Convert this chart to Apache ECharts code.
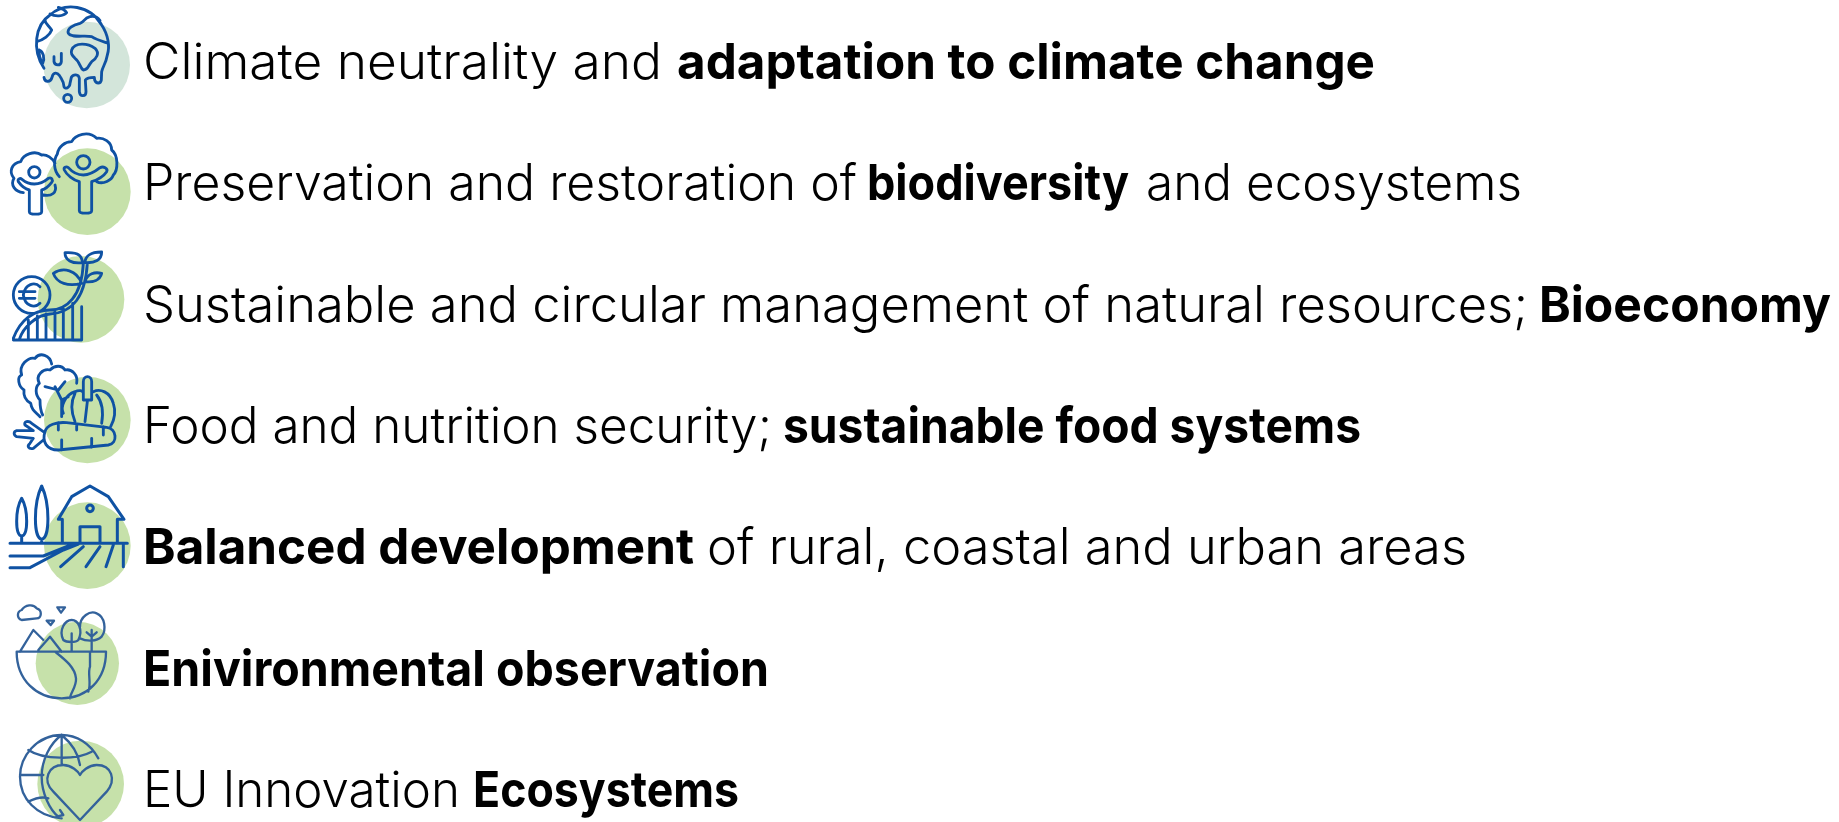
<!DOCTYPE html>
<html>
<head>
<meta charset="utf-8">
<title>Mission areas</title>
<style>
  html, body { margin: 0; padding: 0; background: #fff; }
  #chart { width: 1839px; height: 822px; }
</style>
<script src="https://cdn.jsdelivr.net/npm/echarts@6/dist/echarts.min.js"></script>
</head>
<body>
<div id="chart"></div>
<script>
const rowKeys = ['climate', 'biodiversity', 'bioeconomy', 'food', 'territories', 'observation', 'innovation'];
const rowTexts = [
  ['Climate neutrality and', 'adaptation to climate change'],
  ['Preservation and restoration of', 'biodiversity', 'and ecosystems'],
  ['Sustainable and circular management of natural resources;', 'Bioeconomy'],
  ['Food and nutrition security;', 'sustainable food systems'],
  ['Balanced development', 'of rural, coastal and urban areas'],
  ['Enivironmental observation'],
  ['EU Innovation', 'Ecosystems']
];
const rowBold = [
  [false, true],
  [false, true, false],
  [false, true],
  [false, true],
  [true, false],
  [true],
  [false, true]
];

// icon outlines, drawn in 3x crop units
const iconPaths = [
  'M132 205C95 150 105 75 150 45C195 5 270 15 305 75C325 105 330 140 322 165C318 190 308 200 305 215L304 240C302 252 288 252 284 240L283 232C275 232 262 232 256 240L258 275C258 290 240 292 238 275L238 235C236 222 220 222 214 232L210 250C210 262 196 270 192 260C190 240 186 240 178 226C172 218 160 215 156 232C152 248 134 248 132 232' +
  'M110 125C130 120 150 105 155 90C145 75 135 70 135 60M150 42C165 50 190 50 200 38C195 30 185 25 175 22M325 130C310 125 290 120 275 110C255 105 215 115 205 100C200 85 220 75 240 70C255 65 250 55 270 50C285 45 295 55 300 62' +
  'M215 150C225 125 265 130 285 145C300 160 290 175 275 185C265 195 265 210 250 210C240 205 240 185 225 175C215 165 212 160 215 150ZM162 170L162 185C165 198 182 198 184 185L184 160M118 150C130 155 135 175 128 190C122 180 115 170 118 150Z' +
  'M191 295A12 12 0 1 0 215 295A12 12 0 1 0 191 295Z',
  'M178 530C160 510 160 480 172 462C175 440 195 425 215 425C225 405 265 390 290 415C310 412 335 425 335 450C355 465 355 510 340 525C335 540 310 555 290 545M230 487A20 20 0 1 0 270 487A20 20 0 1 0 230 487Z' +
  'M193 510C190 502 198 498 205 503C220 520 235 525 250 525C270 525 285 515 300 503C310 498 325 505 320 515C310 530 290 540 275 545L275 632C275 642 238 642 238 632L238 545C220 540 200 525 193 510Z' +
  'M70 578C45 575 30 555 42 535C25 515 35 490 62 485C70 462 105 450 125 465C140 462 158 475 165 490M165 555C172 578 155 590 130 585M86 517A17 17 0 1 0 120 517A17 17 0 1 0 86 517Z' +
  'M55 545C52 537 60 533 66 538C78 548 90 552 103 552C120 552 133 545 145 535C155 530 160 540 155 547C145 560 135 568 125 570L125 635C125 645 88 645 88 635L88 570C75 567 62 555 55 545Z',
  'M40 300L245 300L245 200M40 295C60 240 100 210 150 210C200 210 245 170 250 70M58 298C70 260 110 225 150 222C200 220 255 190 262 70' +
  'M85 298L85 240M112 298L112 228M138 298L138 222M165 298L165 215M190 298L190 205M218 298L218 190' +
  'M195 38C240 35 245 50 248 68C215 72 195 60 195 38ZM305 36C270 36 255 50 255 68C285 70 305 60 305 36ZM160 100C190 80 230 90 245 130C205 140 170 130 160 100ZM305 100C285 95 262 100 255 125C280 128 300 120 305 100Z' +
  'M40 165A55 55 0 1 0 150 165A55 55 0 1 0 40 165ZM120 140C105 125 75 130 70 165C75 200 105 205 120 190M58 155L105 155M58 175L105 175',
  'M120 530C105 515 95 510 92 490C75 480 70 465 72 450C55 440 50 410 65 405C55 375 85 350 105 355C120 335 150 345 155 372M128 525C120 510 120 490 120 480C105 465 105 440 118 430C105 405 130 385 150 390C165 375 185 375 195 390C215 385 235 405 230 430' +
  'M185 530L185 480L165 440M185 480L205 470M135 440L175 450L195 425M190 520C180 500 195 465 225 455C235 450 250 450 250 460M250 480L250 425C250 405 275 405 275 425L275 480ZM262 485L255 545M225 460C210 490 215 520 225 545M280 455C300 445 330 455 340 490C350 520 340 545 332 560M290 465C310 490 310 520 305 550' +
  'M135 575C140 555 170 545 200 548L320 562C350 565 355 610 325 615L175 630C140 630 125 605 135 575ZM175 548L175 570M230 552L230 570M310 560L310 585M185 630L185 600M275 622L275 595' +
  'M130 600L100 625C85 628 80 618 90 610L100 595L50 590C40 585 40 575 50 572L100 572L75 555C70 545 85 540 95 550L130 575',
  'M187 148L175 148L215 80L270 48L325 80L372 148L352 148M187 148L187 220M352 148L352 220M240 220L240 170L300 170L300 220' +
  'M65 85C45 120 45 195 65 198C85 195 85 120 65 85ZM125 48C100 100 100 205 125 208C150 205 150 100 125 48ZM65 198L65 220M125 208L125 220M30 220L382 220' +
  'M30 258L130 258L220 222M30 293L90 293L190 240L235 222M182 290L250 230M258 290L300 230M318 290L340 225M370 290L370 225M260 115A10 10 0 1 0 280 115A10 10 0 1 0 260 115Z',
  'M65 450C50 445 50 425 65 420C75 405 100 400 110 415C128 420 125 445 110 445ZM172 412L195 412L183 428ZM140 452L162 452L152 465ZM50 545L318 545C318 630 260 685 185 685C110 685 50 630 50 545Z' +
  'M60 545L100 480L130 510M115 540L150 500L185 545M190 510C175 480 195 450 215 450C235 450 250 480 235 510C228 518 200 518 190 510ZM215 545L215 490M240 470C240 440 270 420 290 430C315 440 320 480 305 500C290 515 260 515 240 505M275 545L275 480M260 487L275 500L290 487' +
  'M165 545C190 565 225 590 228 625C230 650 210 670 210 685M270 545L270 590C262 610 275 640 265 665',
  'M295 865C270 820 230 795 185 795C110 795 60 860 60 920C60 985 110 1040 185 1045M185 795L185 885M185 795C150 820 125 870 125 920C125 970 150 1020 175 1040M185 795C215 820 235 850 240 885' +
  'M85 840C130 870 230 870 275 845M60 915L130 915M85 995C105 985 130 980 145 985M180 1020L190 1035L170 1040' +
  'M240 1050L160 965C125 930 145 885 190 885C215 885 235 905 240 915C245 905 265 885 290 885C335 885 350 930 320 965Z'
];

// layout per row: text runs as [left, right] in px, icon styling
const runBounds = [
  [[143, 662], [677, 1375]],
  [[143, 857], [867, 1129], [1146, 1522]],
  [[143, 1528], [1539, 1831]],
  [[143, 772], [783, 1361]],
  [[143, 694], [707, 1467]],
  [[143, 769]],
  [[143, 460], [473, 739]]
];
const cropOriginY = [0, 0, 240, 240, 470, 470, 470];
const discCenter = [[260, 195], [262, 575], [243, 178], [262, 540], [262, 227], [232, 580], [242, 942]];
const discRadius = [130, 130, 130, 130, 130, 125, 130];
const discColor = ['#d3e5da', '#c6e1aa', '#c6e1aa', '#c6e1aa', '#c6e1aa', '#c6e1aa', '#c6e1aa'];
const iconColor = ['#0f52a3', '#0f52a3', '#0f52a3', '#0f52a3', '#0f52a3', '#33629b', '#33629b'];
const iconWidth = [8.5, 8.5, 8.5, 8.5, 9, 7, 7];

const FONT_SIZE = 50;
const fontFor = (bold) => (bold ? 700 : 300) + ' ' + FONT_SIZE + 'px Inter';
const measureCtx = document.createElement('canvas').getContext('2d');
const runScale = (text, bold, bounds) => {
  measureCtx.font = fontFor(bold);
  return (bounds[1] - bounds[0]) / measureCtx.measureText(text).width;
};

const chart = echarts.init(document.getElementById('chart'));

chart.setOption({
  animation: false,
  backgroundColor: '#fff',
  grid: { left: 0, top: 3, width: 1839, height: 850, outerBoundsMode: 'none' },
  xAxis: { type: 'value', min: 0, max: 1839, show: false },
  yAxis: { type: 'category', data: rowKeys, inverse: true, show: false },
  series: [{
    type: 'custom',
    silent: true,
    clip: false,
    data: rowKeys.map((key, i) => [0, i]),
    encode: { x: 0, y: 1 },
    renderItem: (params, api) => {
      const i = params.dataIndex;
      const centerY = api.coord([0, api.value(1)])[1];
      const runs = rowTexts[i].map((text, r) => ({
        type: 'text',
        x: runBounds[i][r][0],
        y: centerY,
        scaleX: runScale(text, rowBold[i][r], runBounds[i][r]),
        style: {
          text,
          font: fontFor(rowBold[i][r]),
          fill: '#000',
          verticalAlign: 'middle',
          align: 'left'
        }
      }));
      return {
        type: 'group',
        children: [
          {
            type: 'group',
            y: cropOriginY[i],
            scaleX: 1 / 3,
            scaleY: 1 / 3,
            children: [
              {
                type: 'circle',
                shape: { cx: discCenter[i][0], cy: discCenter[i][1], r: discRadius[i] },
                style: { fill: discColor[i] }
              },
              {
                type: 'path',
                shape: { pathData: iconPaths[i] },
                style: {
                  fill: 'none',
                  stroke: iconColor[i],
                  lineWidth: iconWidth[i],
                  lineJoin: 'round',
                  lineCap: 'round'
                }
              }
            ]
          }
        ].concat(runs)
      };
    }
  }]
});

window.addEventListener('resize', () => chart.resize());
</script>
</body>
</html>
